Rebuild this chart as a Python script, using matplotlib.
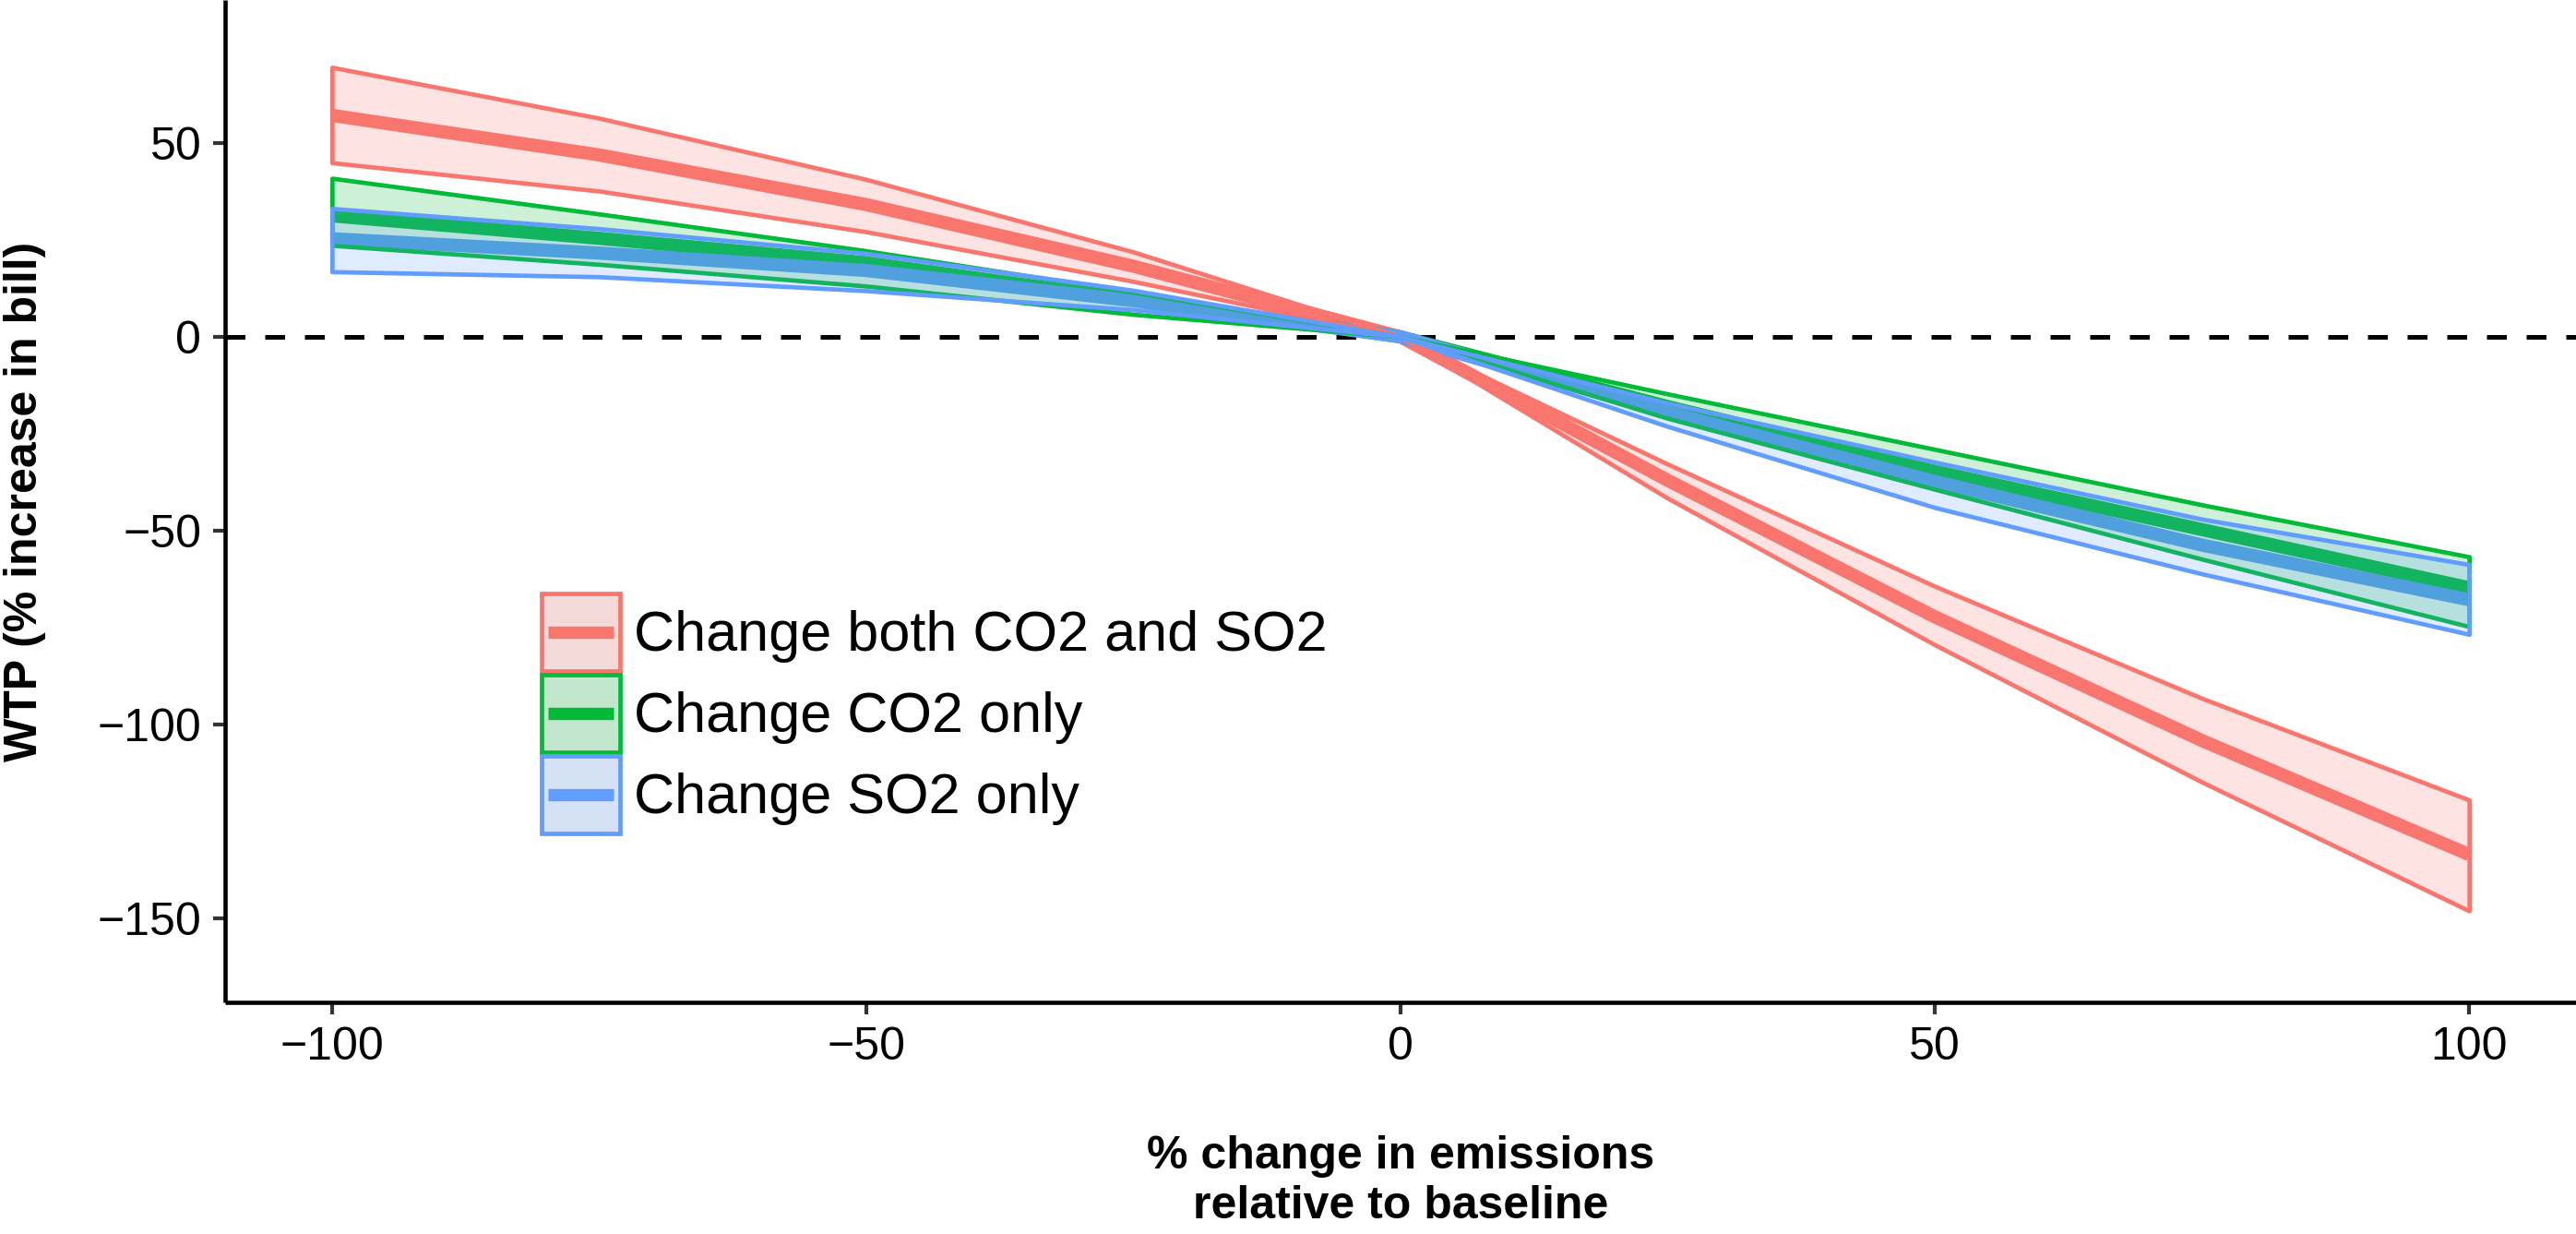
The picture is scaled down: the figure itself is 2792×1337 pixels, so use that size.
import matplotlib
matplotlib.use("Agg")
import matplotlib.pyplot as plt
from matplotlib.patches import Rectangle
from matplotlib.lines import Line2D
from matplotlib.legend_handler import HandlerBase
from matplotlib.colors import to_rgb

plt.rcParams['font.family'] = ['Liberation Sans', 'DejaVu Sans']

# ---- data ----
emis_change = [-100, -75, -50, -25, 0, 25, 50, 75, 100]

both_hi  = [69.5, 56.4, 40.6, 21.9, 0, -32.8, -64.3, -93.2, -119.4]
both_mid = [57.1, 46.9, 34.1, 18.2, 0, -37.0, -72.2, -104.1, -133.5]
both_lo  = [44.9, 37.6, 27.1, 14.3, 0, -41.6, -79.4, -114.8, -148.0]

co2_hi  = [40.9, 31.7, 22.2, 11.5, 0, -14.7, -29.0, -43.3, -56.7]
co2_mid = [31.2, 25.4, 19.1, 9.5, 0, -18.0, -34.7, -49.7, -64.7]
co2_lo  = [23.6, 18.7, 13.1, 5.8, 0, -21.0, -39.3, -57.3, -74.7]

so2_hi  = [33.1, 27.9, 21.5, 12.0, 0, -17.1, -32.3, -47.0, -58.7]
so2_mid = [25.3, 21.6, 17.1, 9.3, 0, -19.5, -37.3, -53.7, -67.8]
so2_lo  = [16.8, 15.5, 11.9, 7.0, 0, -23.1, -44.0, -61.1, -76.7]

series_labels = ["Change both CO2 and SO2", "Change CO2 only", "Change SO2 only"]
x_ticks = [-100, -50, 0, 50, 100]
y_ticks = [50, 0, -50, -100, -150]

# ---- styles ----
colors = ['#F8766D', '#00BA38', '#619CFF']
FILL_ALPHA = 0.2
KEY_BG = 0.949
W, H, DPI = 2792, 1337, 100

fig = plt.figure(figsize=(W / DPI, H / DPI), dpi=DPI)
ax = fig.add_axes([244 / W, 1 - 1086 / H, 1 - 244 / W, 1086 / H])

ax.axhline(0, color='black', lw=3.6, linestyle=(0, (4.3, 4.3)), zorder=1)

mids = [both_mid, co2_mid, so2_mid]
his = [both_hi, co2_hi, so2_hi]
los = [both_lo, co2_lo, so2_lo]

for m, c in zip(mids, colors):
    ax.plot(emis_change, m, color=c, lw=10.3, solid_capstyle='butt', zorder=2)

for i, (lo, hi, c) in enumerate(zip(los, his, colors)):
    r, g, b = to_rgb(c)
    ax.fill_between(emis_change, lo, hi, facecolor=(r, g, b, FILL_ALPHA),
                    edgecolor=c, linewidth=3.4, joinstyle='round', zorder=3 + i)

ax.set_xlim(-110, 110)
ax.set_ylim(-171.6, 86.85)
ax.set_xticks(x_ticks)
ax.set_yticks(y_ticks)

for s in ['top', 'right']:
    ax.spines[s].set_visible(False)
for s in ['left', 'bottom']:
    ax.spines[s].set_linewidth(3.3)
    ax.spines[s].set_color('black')
    ax.spines[s].set_capstyle('butt')

ax.tick_params(axis='both', length=9.5, width=3.0, color='#333333',
               labelsize=36, labelcolor='black', pad=9)

ax.set_xlabel("% change in emissions\nrelative to baseline", fontsize=36,
              fontweight='bold', va='center', linespacing=1.24)
ax.xaxis.set_label_coords(0.5, -0.1787)
ax.set_ylabel("WTP (% increase in bill)", fontsize=36, fontweight='bold',
              va='center')
ax.yaxis.set_label_coords((27 - 244) / 2548, 0.5)


# legend: key = filled box (ribbon fill over light grey) + centred thick line
class KeyHandler(HandlerBase):
    def create_artists(self, legend, orig_handle, xdescent, ydescent,
                       width, height, fontsize, trans):
        c = orig_handle.get_color()
        r, g, b = to_rgb(c)
        fill = tuple(FILL_ALPHA * v + (1 - FILL_ALPHA) * KEY_BG for v in (r, g, b))
        x0, y0 = -xdescent, -ydescent
        rect = Rectangle((x0, y0), width, height, facecolor=fill,
                         edgecolor=c, linewidth=3.4, transform=trans)
        yc = y0 + height / 2
        inset = 0.08 * width
        line = Line2D([x0 + inset, x0 + width - inset], [yc, yc], color=c,
                      lw=9.6, solid_capstyle='butt', transform=trans)
        return [rect, line]


fs_leg = 44
em = fs_leg * DPI / 72
key_h_pt = 84 * 72 / DPI
hh = (key_h_pt - 0.35 * 0.7 * fs_leg) / (fs_leg * 0.65)
proxies = [Line2D([], [], color=c) for c in colors]
leg = ax.legend(proxies, series_labels, loc='upper left',
                handler_map={Line2D: KeyHandler()},
                bbox_to_anchor=(587 / W, 1 - 643 / H),
                bbox_transform=fig.transFigure, frameon=False,
                fontsize=fs_leg, borderpad=0, borderaxespad=0,
                handlelength=85 / em, handleheight=hh,
                handletextpad=15 / em, labelspacing=4 / em)

fig.savefig("out.png", dpi=DPI)
